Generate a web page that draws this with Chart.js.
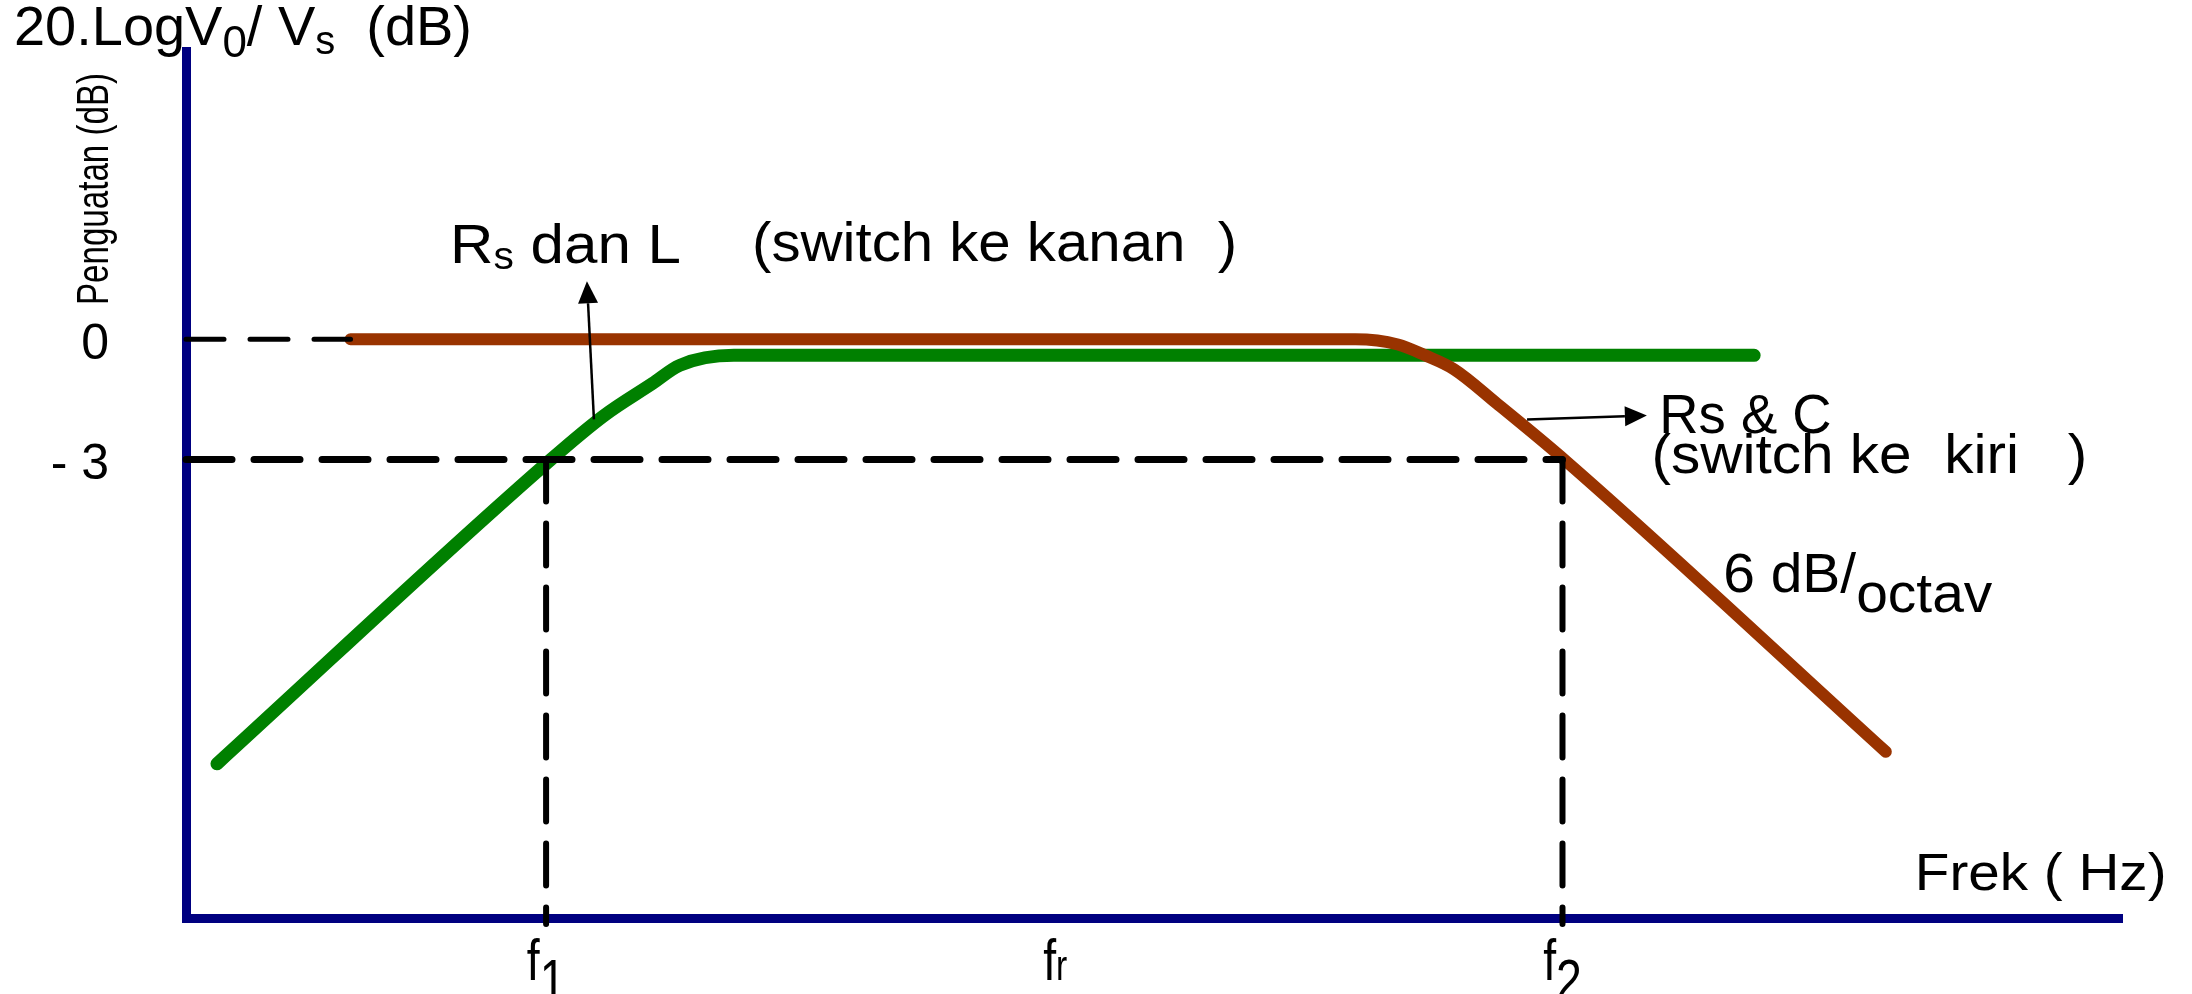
<!DOCTYPE html>
<html>
<head>
<meta charset="utf-8">
<script src="https://cdn.jsdelivr.net/npm/chart.js@4.4.0/dist/chart.umd.min.js"></script>
<style>
    html, body { margin: 0; padding: 0; background: #ffffff; }
    canvas { display: block; }
</style>
</head>
<body>
<canvas id="bodeChart" width="2192" height="994"></canvas>
<script>
// x is frequency in plain axis units (0..100), y is gain in dB
var yTickValues = [0, -3];
var yTickLabels = ['0', '- 3'];
var xTickValues = [18.6, 44.9, 71.1];
var xTickNames = ['f', 'f', 'f'];
var xTickSubs = ['1', 'r', '2'];

// Rs dan L (high pass, green)
var greenX = [1.6, 18.85, 21.6, 24.1, 25.5, 28.3, 81.0];
var greenDb = [-10.6, -3.0, -1.9, -1.1, -0.65, -0.4, -0.4];

// Rs & C (low pass, brown)
var brownX = [8.5, 60.4, 62.6, 64.0, 65.5, 67.7, 71.3, 87.8];
var brownDb = [0, 0, -0.13, -0.4, -0.75, -1.6, -3.05, -10.3];

// dashed guide lines
var zeroRefX = [0, 8.5];
var zeroRefDb = [0, 0];
var cutRefX = [0, 71.1];
var cutRefDb = [-3, -3];
var f1RefX = [18.6, 18.6];
var f1RefDb = [-3, -14.6];
var f2RefX = [71.1, 71.1];
var f2RefDb = [-3, -14.6];

// arrows from the curves to their labels
var arrowFromX = [21.07, 69.27];
var arrowFromDb = [-2.0, -2.0];
var arrowToX = [20.71, 75.46];
var arrowToDb = [1.45, -1.9];

var yMin = -14.45;
var yMax = 7.2;
var FONT = "'Liberation Sans', Arial, sans-serif";

function toPoints(xs, ys) {
    return xs.map(function(x, i) { return {x: x, y: ys[i]}; });
}

// labels placed in data units: parts are [text, size, dy]
var notes = [
    {parts: [['R', 56, 0], ['s', 38, 6], [' dan L', 56, 0]], x0: 13.64, x1: 25.57, y: 1.9},
    {parts: [['(switch ke kanan  )', 56, 0]], x0: 29.24, x1: 54.29, y: 1.95},
    {parts: [['Rs & C', 56, 0]], x0: 76.1, x1: 85.0, y: -2.35},
    {parts: [['(switch ke  kiri   )', 56, 0]], x0: 75.7, x1: 98.2, y: -3.35},
    {parts: [['6 dB/', 56, 0], ['octav', 56, 20]], x0: 79.4, x1: 93.3, y: -6.3},
    {parts: [['Frek ( Hz)', 52, 0]], x0: 89.3, x1: 102.3, y: -13.75}
];

function drawParts(ctx, parts, x, y, width) {
    var w = 0;
    parts.forEach(function(p) {
        ctx.font = p[1] + 'px ' + FONT;
        w += ctx.measureText(p[0]).width;
    });
    var sx = width ? width / w : 1;
    ctx.save();
    ctx.translate(x, y);
    ctx.scale(sx, 1);
    var cx = 0;
    parts.forEach(function(p) {
        ctx.font = p[1] + 'px ' + FONT;
        ctx.fillText(p[0], cx, p[2]);
        cx += ctx.measureText(p[0]).width;
    });
    ctx.restore();
    return w * sx;
}

var annotate = {
    id: 'annotate',
    afterDraw: function(chart) {
        var ctx = chart.ctx;
        var xs = chart.scales.x;
        var ys = chart.scales.y;
        ctx.save();
        ctx.fillStyle = '#000';
        ctx.textBaseline = 'alphabetic';
        ctx.textAlign = 'left';

        // axis titles
        drawParts(ctx, [['20.LogV', 56, 0], ['0', 44, 12], ['/ V', 56, 0], ['s', 40, 9], ['  (dB)', 56, 0]], 14, 45, 458);
        ctx.save();
        ctx.translate(108, 305);
        ctx.rotate(-Math.PI / 2);
        drawParts(ctx, [['Penguatan (dB)', 45, 0]], 0, 0, 232);
        ctx.restore();

        // notes
        notes.forEach(function(n) {
            var a = xs.getPixelForValue(n.x0);
            var b = xs.getPixelForValue(n.x1);
            drawParts(ctx, n.parts, a, ys.getPixelForValue(n.y), b - a);
        });

        // x tick names with subscripts
        xTickValues.forEach(function(v, i) {
            var px = xs.getPixelForValue(v);
            var isR = xTickSubs[i] === 'r';
            var subSize = isR ? 42 : 58;
            ctx.font = '58px ' + FONT;
            var w1 = ctx.measureText(xTickNames[i]).width;
            ctx.font = subSize + 'px ' + FONT;
            var w2 = ctx.measureText(xTickSubs[i]).width;
            var sx = 0.8;
            var dy = isR ? 0 : 20;
            drawParts(ctx, [[xTickNames[i], 58, 0], [xTickSubs[i], subSize, dy]], px - (w1 + w2) * sx / 2, xs.top + 62, (w1 + w2) * sx);
        });

        // arrows
        ctx.strokeStyle = '#000';
        ctx.lineWidth = 2.5;
        arrowFromX.forEach(function(v, i) {
            var x1 = xs.getPixelForValue(v), y1 = ys.getPixelForValue(arrowFromDb[i]);
            var x2 = xs.getPixelForValue(arrowToX[i]), y2 = ys.getPixelForValue(arrowToDb[i]);
            var ang = Math.atan2(y2 - y1, x2 - x1);
            var len = 22, half = 10;
            var bx = x2 - Math.cos(ang) * len, by = y2 - Math.sin(ang) * len;
            ctx.beginPath();
            ctx.moveTo(x1, y1);
            ctx.lineTo(bx, by);
            ctx.stroke();
            ctx.beginPath();
            ctx.moveTo(x2, y2);
            ctx.lineTo(bx + Math.sin(ang) * half, by - Math.cos(ang) * half);
            ctx.lineTo(bx - Math.sin(ang) * half, by + Math.cos(ang) * half);
            ctx.closePath();
            ctx.fill();
        });
        ctx.restore();
    }
};

function guide(xs, ys, width, dash, ord) {
    return {
        data: toPoints(xs, ys),
        borderColor: '#000000',
        borderWidth: width,
        borderDash: dash,
        borderCapStyle: 'round',
        pointRadius: 0,
        fill: false,
        tension: 0,
        clip: false,
        order: ord
    };
}

function noPadding(scale) {
    scale.paddingTop = 0;
    scale.paddingBottom = 0;
    scale.paddingLeft = 0;
    scale.paddingRight = 0;
}

var ctx = document.getElementById('bodeChart').getContext('2d');
var bodeChart = new Chart(ctx, {
    type: 'line',
    data: {
        datasets: [
            guide(zeroRefX, zeroRefDb, 5, [38, 26], 0),
            guide(cutRefX, cutRefDb, 7, [46, 22], 0),
            guide(f1RefX, f1RefDb, 6, [42, 22], 0),
            guide(f2RefX, f2RefDb, 6, [42, 22], 0),
            {
                label: 'Rs & C',
                data: toPoints(brownX, brownDb),
                borderColor: '#993300',
                borderWidth: 12,
                borderCapStyle: 'round',
                cubicInterpolationMode: 'monotone',
                pointRadius: 0,
                fill: false,
                order: 1
            },
            {
                label: 'Rs dan L',
                data: toPoints(greenX, greenDb),
                borderColor: '#008000',
                borderWidth: 13,
                borderCapStyle: 'round',
                cubicInterpolationMode: 'monotone',
                pointRadius: 0,
                fill: false,
                order: 2
            }
        ]
    },
    options: {
        responsive: false,
        animation: false,
        devicePixelRatio: 1,
        layout: {padding: {top: 51, right: 70, left: 0, bottom: 0}},
        plugins: {
            legend: {display: false},
            tooltip: {enabled: false}
        },
        scales: {
            x: {
                type: 'linear',
                min: 0,
                max: 100,
                grid: {display: false, drawTicks: false},
                border: {display: true, color: '#000080', width: 9},
                ticks: {display: false},
                afterFit: function(scale) { scale.height = 76; noPadding(scale); }
            },
            y: {
                type: 'linear',
                min: yMin,
                max: yMax,
                grid: {display: false, drawTicks: false},
                border: {display: true, color: '#000080', width: 9},
                afterFit: function(scale) { scale.width = 186; noPadding(scale); },
                afterBuildTicks: function(scale) {
                    scale.ticks = yTickValues.map(function(v) { return {value: v}; });
                },
                ticks: {
                    color: '#000',
                    padding: 77,
                    labelOffset: 6,
                    font: {size: 50, family: FONT},
                    callback: function(value) {
                        var i = yTickValues.indexOf(value);
                        return i >= 0 ? yTickLabels[i] : '';
                    }
                }
            }
        }
    },
    plugins: [annotate]
});
</script>
</body>
</html>
